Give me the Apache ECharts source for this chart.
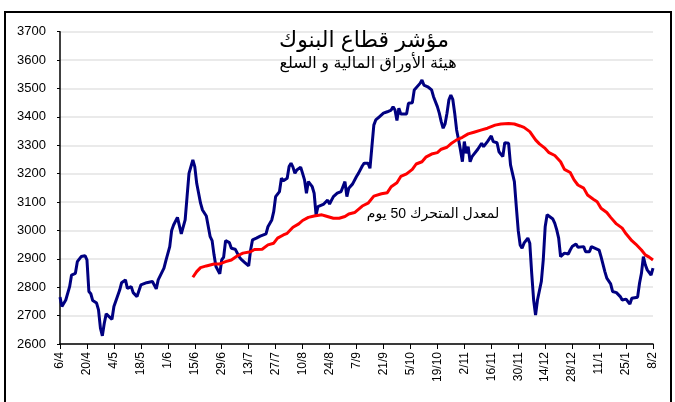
<!DOCTYPE html>
<html><head><meta charset="utf-8">
<script src="https://cdn.jsdelivr.net/npm/echarts@6/dist/echarts.min.js"></script>
<style>html,body{margin:0;padding:0;background:#fff}#c{width:675px;height:402px}</style>
</head><body><div id="c"></div>
<script>
// Day offsets from 6/4 (calendar days) and index values
const startDate = [2010, 3, 6]; // 6 April
const nDays = 309;
const blueDay = [0,1,3,5,6,8,9,11,13,14,15,16,17,19,20,21,22,23,24,25,27,28,29,31,32,34,35,37,38,40,41,42,45,48,49,50,51,54,55,57,58,59,61,62,63,64,65,66,67,69,70,71,72,73,74,76,77,78,79,80,81,83,84,85,86,88,89,91,93,94,96,98,99,100,102,104,107,108,110,111,112,114,115,116,118,119,120,121,122,123,125,126,127,128,129,130,131,132,133,134,135,137,139,140,142,144,146,147,148,149,150,152,154,155,157,158,160,161,162,163,164,166,168,170,171,172,173,174,175,176,177,178,180,181,183,184,185,187,188,189,190,191,193,194,196,197,198,199,200,201,202,203,204,205,206,207,208,209,210,211,212,213,214,217,219,220,222,224,225,227,228,230,231,233,234,236,237,238,239,240,241,243,244,245,246,247,248,250,251,252,253,254,256,257,258,259,260,262,264,265,266,268,269,270,272,273,274,275,276,278,280,281,283,284,286,287,289,291,292,294,295,296,297,298,300,301,302,303,304,305,307,308];
const blueVal = [2765,2732,2755,2802,2843,2849,2890,2908,2911,2896,2785,2777,2753,2744,2720,2656,2629,2673,2706,2699,2687,2732,2734,2790,2816,2826,2796,2802,2781,2767,2765,2808,2816,2820,2816,2794,2826,2867,2894,2943,3000,3019,3046,3049,2988,2984,3037,3119,3201,3248,3225,3166,3131,3096,3072,3051,3046,2978,2964,2914,2873,2847,2896,2906,2964,2957,2937,2934,2908,2899,2887,2875,2931,2967,2973,2980,2988,3013,3037,3066,3119,3137,3184,3175,3184,3225,3237,3223,3201,3213,3223,3201,3178,3131,3172,3168,3154,3131,3055,3084,3078,3093,3107,3093,3119,3131,3137,3143,3172,3119,3149,3164,3190,3201,3227,3237,3237,3219,3295,3371,3389,3401,3413,3418,3415,3424,3436,3424,3387,3430,3410,3407,3410,3448,3450,3495,3497,3518,3530,3512,3518,3506,3495,3471,3436,3413,3383,3360,3375,3413,3460,3477,3462,3413,3354,3320,3283,3242,3313,3272,3295,3242,3260,3286,3307,3295,3313,3333,3313,3309,3277,3260,3309,3307,3231,3172,3084,3000,2949,2937,2955,2973,2955,2849,2755,2702,2755,2820,2896,3013,3055,3061,3040,3025,3002,2973,2908,2920,2917,2931,2943,2952,2941,2945,2943,2925,2931,2925,2943,2937,2931,2908,2855,2832,2812,2785,2781,2767,2755,2758,2749,2741,2761,2761,2765,2814,2849,2908,2879,2861,2843,2867];
const redDay = [69,71,73,76,80,83,86,89,92,95,99,101,105,108,111,113,116,118,121,124,126,129,132,136,138,142,145,148,150,153,157,160,163,167,170,172,175,177,180,183,185,188,190,193,196,198,201,203,206,209,212,215,219,222,226,229,233,236,239,241,244,247,249,252,254,257,260,262,265,267,269,272,274,277,279,281,284,286,289,292,294,297,299,302,304,306,308];
const redVal = [2835,2855,2869,2875,2882,2882,2890,2896,2910,2920,2925,2933,2934,2949,2955,2973,2984,2990,3011,3023,3035,3046,3051,3055,3051,3043,3043,3049,3058,3063,3086,3096,3121,3129,3133,3154,3168,3190,3199,3215,3234,3242,3258,3269,3274,3286,3293,3305,3319,3328,3340,3346,3354,3360,3371,3375,3377,3375,3368,3363,3348,3319,3305,3289,3274,3264,3242,3215,3204,3178,3160,3149,3125,3110,3101,3078,3063,3046,3023,3008,2988,2964,2952,2931,2914,2906,2896];
const yTicks = {min: 2600, max: 3700, step: 100};
const titleText = 'مؤشر قطاع البنوك';
const subtitleText = 'هيئة الأوراق المالية و السلع';
const maLabel = 'لمعدل المتحرك 50 يوم';

const categories = [];
for (let i = 0; i < nDays; i++) {
  const d = new Date(startDate[0], startDate[1], startDate[2] + i);
  categories.push(d.getDate() + '/' + (d.getMonth() + 1));
}
const blueData = blueDay.map((d, i) => [d, blueVal[i]]);
const redData = redDay.map((d, i) => [d, redVal[i]]);

const F = "'Liberation Sans', Arial, 'DejaVu Sans', sans-serif";
const chart = echarts.init(document.getElementById('c'), null, {renderer: 'canvas'});
chart.setOption({
  animation: false,
  backgroundColor: '#fff',
  grid: {left: 60, right: 22, top: 31.7, bottom: 58, containLabel: false},
  xAxis: {
    type: 'category', data: categories, boundaryGap: false,
    axisLine: {lineStyle: {color: '#000', width: 1.5}},
    axisTick: {interval: 13, length: 5, lineStyle: {color: '#000'}},
    axisLabel: {interval: 13, rotate: 90, color: '#000', fontSize: 12, fontFamily: F, margin: 8},
    splitLine: {show: false}
  },
  yAxis: {
    type: 'value', min: yTicks.min, max: yTicks.max, interval: yTicks.step,
    axisLine: {show: true, lineStyle: {color: '#000', width: 1.5}},
    axisTick: {show: true, length: 3, lineStyle: {color: '#000'}},
    axisLabel: {color: '#000', fontSize: 13, fontFamily: F, margin: 14, formatter: v => String(v)},
    splitLine: {lineStyle: {color: '#e3e3e3', width: 1.5}}
  },
  graphic: [
    {type: 'rect', shape: {x: 5, y: 12, width: 666, height: 420}, style: {fill: 'none', stroke: '#000', lineWidth: 2}, silent: true, z: 0},
    {type: 'text', x: 364, y: 41, style: {text: titleText, fontSize: 22, fontFamily: F, fill: '#000', textAlign: 'center', textVerticalAlign: 'middle'}, z: 10},
    {type: 'text', x: 368, y: 64, style: {text: subtitleText, fontSize: 16, fontFamily: F, fill: '#000', textAlign: 'center', textVerticalAlign: 'middle'}, z: 10},
    {type: 'text', x: 433, y: 214, style: {text: maLabel, fontSize: 14, fontFamily: F, fill: '#000', textAlign: 'center', textVerticalAlign: 'middle'}, z: 10}
  ],
  series: [
    {type: 'line', data: blueData, showSymbol: false, lineStyle: {color: '#000080', width: 3}, z: 3},
    {type: 'line', data: redData, showSymbol: false, lineStyle: {color: '#ff0000', width: 3}, z: 4}
  ]
});
</script></body></html>
